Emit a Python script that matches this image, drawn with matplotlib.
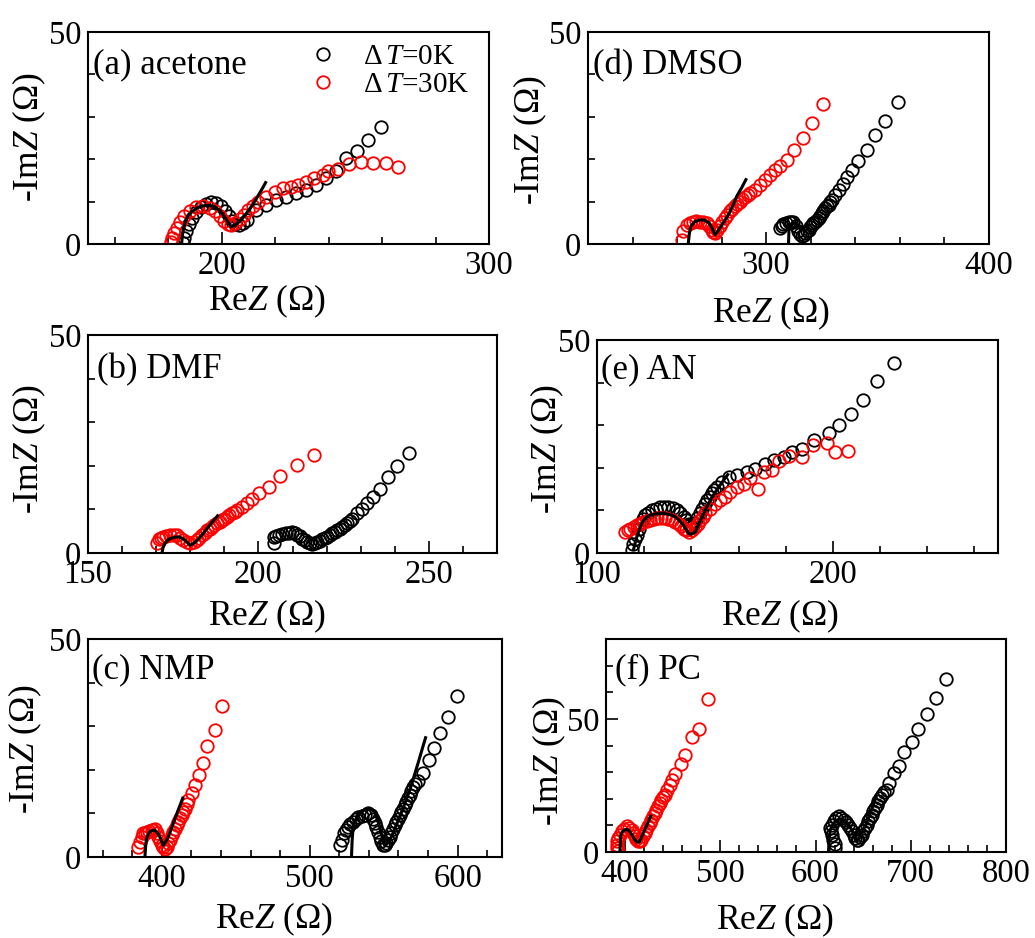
import matplotlib
matplotlib.use("Agg")
import matplotlib.pyplot as plt
from matplotlib.ticker import MultipleLocator
from matplotlib.transforms import offset_copy

plt.rcParams['font.family'] = ['Liberation Serif', 'DejaVu Serif']
plt.rcParams['mathtext.fontset'] = 'custom'
plt.rcParams['mathtext.rm'] = 'Liberation Serif'
plt.rcParams['mathtext.it'] = 'Liberation Serif:italic'

# ---------------- data ----------------
# (a) acetone
a_black_re = [185.5, 186.0, 186.8, 187.8, 189.0, 190.5, 192.2, 194.0, 196.0, 198.0, 199.8, 201.3, 202.6, 203.8, 205.0,
              206.5, 208.0, 209.5, 212.9, 216.7, 220.4, 224.1, 227.9, 231.6, 235.3, 239.1, 242.8, 246.5, 250.6, 254.6, 259.5]
a_black_im = [0.3, 1.5, 3.0, 4.6, 6.2, 7.6, 8.7, 9.4, 9.8, 9.6, 8.9, 7.8, 6.6, 5.5, 4.7,
              4.5, 4.9, 5.7, 8.0, 9.2, 10.4, 11.2, 12.0, 12.7, 13.9, 15.5, 17.1, 20.2, 22.0, 24.5, 27.6]
a_red_re = [181.0, 181.5, 182.3, 183.3, 184.5, 186.0, 188.0, 190.5, 193.0, 195.5, 197.5, 199.3, 201.0, 202.5, 203.6,
            205.0, 206.7, 208.2, 209.8, 211.6, 213.5, 216.7, 219.8, 222.9, 226.0, 228.5, 231.6, 234.7, 237.8, 239.7,
            243.4, 247.6, 252.1, 256.7, 261.4, 265.9]
a_red_im = [0.5, 1.5, 2.6, 3.8, 5.2, 6.5, 7.9, 8.7, 9.0, 8.6, 7.7, 6.6, 5.5, 4.8, 4.5,
            5.0, 5.9, 6.9, 8.0, 9.0, 10.0, 11.2, 12.3, 13.1, 13.5, 13.9, 14.7, 15.5, 16.3, 17.1,
            17.8, 18.8, 19.3, 19.0, 19.0, 18.2]
a_fit_re = [185.0, 185.4, 186.2, 187.3, 188.7, 190.8, 193.0, 195.3, 197.4, 199.5, 201.1, 202.6, 203.6, 205.3, 207.3,
            209.2, 211.1, 212.7, 214.2, 215.5, 216.7]
a_fit_im = [0.0, 2.5, 4.9, 6.5, 7.6, 8.5, 9.0, 9.1, 8.8, 7.8, 6.4, 5.0, 4.1, 4.6, 5.7,
            7.2, 8.8, 10.4, 12.0, 13.4, 14.8]

# (b) DMF
b_black_re = [204.5, 204.7, 205.3, 206.0, 207.0, 208.0, 209.0, 209.9, 210.7, 211.4, 212.1, 212.9, 213.6, 214.3, 215.0,
              215.8, 216.5, 217.3, 218.0, 218.7, 219.5, 220.2, 221.0, 221.7, 222.4, 223.1, 223.9, 224.6, 225.4, 226.1,
              226.8, 227.5, 229.0, 230.5, 232.0, 233.7, 235.7, 238.1, 240.6, 244.1]
b_black_im = [2.2, 3.7, 4.0, 4.2, 4.4, 4.6, 4.7, 4.8, 4.5, 4.2, 3.8, 3.3, 2.9, 2.5, 2.2,
              2.0, 2.2, 2.5, 2.8, 3.1, 3.4, 3.7, 4.1, 4.5, 4.8, 5.2, 5.6, 6.0, 6.4, 6.8,
              7.3, 7.9, 9.1, 10.2, 11.5, 12.9, 14.6, 17.5, 20.0, 22.9]
b_red_re = [170.2, 170.7, 171.3, 172.1, 173.0, 174.1, 175.1, 176.1, 177.0, 178.0, 179.0, 180.0, 181.0, 182.0, 182.7,
            183.4, 184.2, 184.9, 185.7, 186.4, 187.1, 187.8, 188.6, 189.3, 190.0, 190.8, 191.5, 192.3, 193.0, 193.7,
            195.2, 196.7, 198.1, 200.1, 203.0, 206.3, 211.2, 216.4]
b_red_im = [2.2, 3.3, 3.5, 3.7, 3.9, 4.1, 4.1, 4.1, 3.5, 2.9, 2.5, 2.2, 2.5, 2.9, 3.5,
            4.1, 4.7, 5.2, 5.6, 6.0, 6.4, 6.8, 7.1, 7.5, 7.9, 8.3, 8.7, 9.1, 9.4, 9.8,
            10.6, 11.5, 12.5, 13.7, 15.2, 17.7, 20.2, 22.4]
b_fit_re = [171.7, 172.0, 172.6, 173.3, 174.1, 175.3, 176.6, 177.6, 178.5, 179.3, 180.0, 181.0, 182.0, 183.5, 184.9,
            186.6, 188.3]
b_fit_im = [0.0, 1.2, 2.2, 2.9, 3.3, 3.6, 3.7, 3.4, 2.9, 2.3, 1.8, 2.2, 2.9, 4.2, 5.6,
            7.2, 8.8]

# (c) NMP
c_black_re = [520.3, 521.5, 523.0, 524.5, 525.9, 527.5, 529.3, 531.0, 532.7, 535.0, 537.2, 539.4, 541.2, 542.8, 544.0,
              545.1, 546.2, 547.3, 548.4, 549.5, 550.7, 551.8, 552.9, 554.1, 555.2, 556.3, 557.5, 558.6, 559.7, 560.8,
              562.0, 563.1, 564.2, 565.3, 566.5, 567.6, 568.7, 569.8, 571.0, 573.2, 576.6, 580.5, 584.0, 587.8, 593.2,
              599.6]
c_black_im = [2.7, 4.0, 5.4, 6.2, 6.9, 7.5, 8.1, 8.7, 9.2, 9.4, 9.6, 10.0, 9.6, 8.8, 7.9,
              6.9, 5.8, 4.6, 3.6, 2.7, 2.7, 3.1, 3.8, 4.6, 5.6, 6.5, 7.3, 8.1, 8.8, 9.6,
              10.4, 11.1, 11.9, 12.7, 13.5, 14.2, 15.1, 16.1, 16.8, 17.4, 19.3, 22.2, 25.1, 28.5, 32.1,
              37.0]
c_red_re = [384.0, 385.0, 386.3, 387.4, 388.5, 389.6, 391.3, 393.0, 394.2, 395.3, 396.4, 397.5, 398.7, 399.8, 400.9,
            402.0, 403.1, 404.3, 405.5, 406.6, 407.7, 408.8, 409.9, 411.0, 412.2, 413.3, 414.4, 415.5, 416.7, 417.8,
            420.1, 422.3, 425.0, 427.9, 430.6, 435.8, 440.5]
c_red_im = [2.3, 3.5, 4.6, 5.4, 5.6, 5.8, 6.0, 6.1, 6.3, 6.5, 5.6, 4.6, 3.6, 2.7, 2.2,
            1.9, 2.4, 3.1, 4.0, 5.0, 5.8, 6.5, 7.3, 8.1, 8.9, 9.6, 10.4, 11.1, 12.1, 13.0,
            14.6, 16.5, 18.8, 21.6, 25.4, 29.2, 34.6]
c_fit1_re = [388.5, 389.0, 389.6, 390.7, 391.9, 393.6, 395.3, 397.0, 398.6, 399.8, 400.9, 402.6, 404.3, 406.5, 408.8,
             411.6, 414.4]
c_fit1_im = [0.0, 2.5, 4.2, 5.2, 5.8, 6.1, 6.1, 5.5, 4.6, 3.6, 2.7, 3.5, 4.6, 6.6, 8.8,
             11.3, 13.8]
c_fit2_re = [528.2, 528.6, 529.3, 531.0, 532.7, 535.5, 538.3, 541.1, 543.9, 545.6, 547.3, 549.0, 550.7, 553.0, 555.2,
             558.0, 560.8, 564.2, 567.6, 570.4, 573.2, 575.8, 578.6]
c_fit2_im = [0.0, 3.5, 6.9, 8.4, 9.6, 10.5, 11.1, 11.0, 10.4, 8.8, 6.9, 4.6, 2.7, 3.5, 4.6,
             6.9, 9.2, 12.2, 15.3, 18.4, 21.5, 24.5, 27.7]

# (d) DMSO
d_black_re = [306.2, 307.0, 307.7, 308.8, 310.0, 311.1, 312.2, 313.3, 314.4, 315.2, 316.0, 316.8, 317.5, 318.2, 319.0,
              319.8, 320.5, 321.2, 322.0, 322.8, 323.5, 324.2, 325.0, 325.7, 326.5, 327.2, 328.0, 328.8, 329.5, 331.0,
              332.5, 334.3, 336.2, 338.5, 341.4, 345.2, 349.0, 353.1, 359.2]
d_black_im = [3.8, 4.2, 4.6, 5.0, 5.3, 5.3, 5.3, 4.3, 3.0, 2.3, 1.8, 2.2, 2.6, 3.0, 3.4,
              4.0, 4.5, 4.9, 5.3, 5.7, 6.1, 6.7, 7.3, 7.9, 8.5, 8.9, 9.3, 9.9, 10.4, 11.6,
              12.8, 14.2, 15.8, 17.4, 19.6, 22.2, 25.6, 29.1, 33.5]
d_red_re = [262.0, 262.7, 264.3, 265.8, 267.2, 268.7, 270.2, 271.8, 273.3, 274.5, 275.5, 276.3, 277.0, 278.0, 279.2,
            280.3, 281.5, 282.6, 283.7, 284.8, 286.0, 287.1, 288.2, 289.3, 290.5, 291.6, 292.7, 295.0, 297.2, 299.5,
            301.7, 304.0, 306.2, 309.2, 312.5, 316.4, 320.5, 325.7]
d_red_im = [1.0, 3.0, 4.5, 5.0, 5.3, 5.4, 5.3, 5.2, 5.0, 4.3, 3.4, 2.9, 2.6, 3.3, 4.2,
            5.1, 6.1, 6.9, 7.7, 8.3, 8.9, 9.5, 10.0, 10.6, 11.2, 11.6, 12.0, 12.8, 14.0, 15.2,
            16.3, 17.5, 18.3, 19.9, 22.2, 25.1, 28.5, 33.1]
d_fit1_re = [265.0, 265.5, 266.2, 268.0, 270.5, 272.5, 274.2, 275.5, 276.3, 277.0, 278.0, 279.2, 281.0, 283.0, 285.0,
             286.7, 289.0, 291.2]
d_fit1_im = [0.0, 2.5, 4.2, 5.3, 5.7, 5.6, 5.0, 4.0, 3.0, 2.2, 2.8, 3.8, 5.2, 6.9, 9.0,
             11.2, 13.3, 15.5]
d_fit2_re = [310.0, 310.2, 311.5, 313.0, 314.5, 316.0]
d_fit2_im = [0.0, 3.2, 4.6, 5.0, 4.4, 3.0]

# (e) AN
e_black_re = [114.7, 115.4, 116.1, 116.9, 117.6, 118.3, 119.3, 120.4, 121.8, 123.2, 125.0, 126.8, 128.5, 130.3, 132.1,
              133.9, 135.3, 136.7, 137.8, 138.8, 139.5, 140.2, 141.3, 142.4, 143.5, 144.5, 145.6, 146.6, 147.7, 148.7,
              149.8, 150.9, 153.0, 155.8, 159.4, 163.6, 167.1, 171.4, 174.9, 179.2, 182.7, 187.0, 191.9, 198.3, 202.7,
              207.5, 212.6, 218.5, 225.7]
e_black_im = [0.6, 2.2, 3.2, 4.2, 5.6, 6.9, 8.0, 8.9, 9.5, 10.0, 10.4, 10.8, 10.9, 10.8, 10.5,
              10.0, 9.3, 8.5, 7.7, 6.9, 6.5, 6.1, 7.1, 8.1, 9.3, 10.4, 11.4, 12.4, 13.2, 14.0,
              14.8, 15.5, 16.7, 17.9, 18.3, 19.0, 19.8, 21.0, 21.8, 22.6, 23.7, 24.5, 26.5, 28.2, 30.0,
              32.7, 35.9, 40.4, 44.7]
e_red_re = [111.9, 113.0, 114.0, 115.5, 116.9, 118.3, 119.7, 121.1, 122.5, 124.0, 125.4, 127.2, 128.9, 130.3, 131.7,
            133.2, 134.6, 135.7, 136.7, 137.8, 138.8, 140.2, 141.6, 142.7, 143.8, 144.8, 145.9, 148.0, 150.1, 152.3,
            154.4, 156.5, 159.4, 162.2, 165.0, 168.1, 170.7, 174.2, 177.0, 181.3, 187.0, 191.7, 197.5, 200.8, 206.6]
e_red_im = [4.9, 5.3, 5.7, 6.1, 6.5, 6.9, 7.3, 7.5, 7.7, 7.9, 8.1, 8.1, 8.1, 7.9, 7.7,
            7.3, 6.9, 6.3, 5.7, 5.3, 4.9, 5.5, 6.1, 6.9, 7.7, 8.5, 9.3, 10.4, 11.6, 12.4,
            13.2, 14.3, 15.5, 16.3, 17.5, 15.0, 18.9, 19.6, 21.6, 22.8, 22.6, 25.3, 25.9, 23.7, 23.9]
e_fit_re = [115.4, 116.0, 116.9, 118.0, 119.0, 120.5, 122.5, 125.0, 128.2, 131.0, 133.2, 135.0, 136.7, 137.8, 138.8,
            140.0, 141.6, 143.0, 144.5, 146.3, 148.0, 149.8, 151.6, 153.7, 155.8]
e_fit_im = [0.6, 2.0, 3.8, 5.6, 7.0, 8.2, 8.9, 9.2, 9.3, 9.0, 8.5, 7.6, 6.5, 5.5, 4.6,
            4.4, 4.9, 6.6, 8.5, 10.5, 12.4, 14.0, 15.5, 17.1, 18.7]

# (f) PC
f_black_re = [620.7, 620.0, 618.5, 617.2, 615.8, 615.5, 616.8, 619.0, 621.5, 624.2, 626.8, 629.4, 632.0, 634.6, 636.4,
              638.1, 639.9, 641.6, 643.3, 645.0, 646.8, 648.5, 650.2, 652.0, 653.7, 655.5, 657.2, 658.9, 660.7, 662.4,
              664.1, 665.9, 668.0, 670.0, 672.3, 674.6, 677.1, 682.6, 687.8, 692.8, 701.4, 707.7, 717.1, 726.5, 737.2]
f_black_im = [1.5, 3.0, 4.6, 6.5, 7.8, 9.0, 10.3, 11.5, 12.6, 13.4, 12.9, 12.1, 11.2, 10.3, 9.0,
              7.7, 6.5, 5.3, 4.6, 4.6, 5.5, 6.5, 7.7, 9.0, 10.3, 11.5, 12.8, 14.0, 15.3, 16.5,
              17.8, 19.0, 20.3, 21.5, 22.5, 23.4, 25.9, 29.7, 32.2, 37.5, 41.2, 46.2, 52.0, 57.8, 65.1]
f_red_re = [392.8, 391.5, 391.1, 391.8, 392.8, 394.5, 396.4, 398.8, 401.6, 404.2, 406.8, 408.5, 410.2, 412.0, 413.7,
            415.5, 417.2, 419.0, 420.7, 422.4, 424.1, 425.9, 427.6, 429.4, 431.1, 432.8, 434.5, 436.3, 438.0, 439.8,
            441.5, 444.1, 446.7, 449.8, 452.8, 458.6, 463.2, 470.4, 478.0, 487.2]
f_red_im = [0.2, 1.5, 2.7, 4.0, 5.3, 6.5, 7.7, 8.7, 9.6, 9.1, 8.4, 7.1, 5.9, 4.9, 4.0,
            4.2, 4.6, 5.9, 7.1, 8.3, 9.6, 10.8, 12.1, 13.4, 14.7, 15.9, 17.1, 18.4, 19.7, 20.6,
            21.5, 23.4, 25.3, 27.2, 29.2, 33.1, 36.4, 43.2, 46.2, 57.6]
f_fit1_re = [394.6, 395.0, 395.3, 397.0, 399.8, 402.5, 405.0, 407.5, 410.2, 412.5, 414.7, 417.5, 420.7, 424.0, 427.6]
f_fit1_im = [0.2, 3.0, 5.9, 7.5, 8.4, 8.4, 7.7, 6.2, 4.6, 3.8, 3.6, 5.8, 8.4, 11.0, 14.0]
f_fit2_re = [613.7, 614.0, 615.5, 619.0, 622.5, 625.9, 629.5, 633.5, 638.1, 641.0, 643.3, 647.0, 652.0, 658.0, 664.2]
f_fit2_im = [0.2, 4.0, 8.4, 10.8, 12.0, 12.4, 12.0, 10.5, 8.4, 6.0, 4.0, 6.0, 9.6, 15.0, 21.5]

panel_titles = ['(a) acetone', '(b) DMF', '(c) NMP', '(d) DMSO', '(e) AN', '(f) PC']
legend_labels = ['Δ$\\,T$=0K', 'Δ$\\,T$=30K']
xlabel_text = 'Re$Z$ (Ω)'
ylabel_text = '-Im$Z$ (Ω)'

# ---------------- layout ----------------
W, H = 1035, 938
fig = plt.figure(figsize=(W / 100, H / 100), dpi=100)

# (left, top, right, bottom) in pixels
boxes = {
    'a': (88, 32, 489, 244),
    'b': (88, 335, 497, 553),
    'c': (88, 639, 502, 857),
    'd': (588, 32, 989, 244),
    'e': (597, 340, 998, 553),
    'f': (606, 639, 1006, 852),
}
xlims = {'a': (150, 300), 'b': (150, 270), 'c': (350, 630), 'd': (220, 400), 'e': (100, 270), 'f': (380, 800)}
ylims = {'a': (0, 50), 'b': (0, 50), 'c': (0, 50), 'd': (0, 50), 'e': (0, 50), 'f': (0, 80)}
xmaj = {'a': 100, 'b': 50, 'c': 100, 'd': 100, 'e': 100, 'f': 100}
xmin = {'a': 20, 'b': 10, 'c': 20, 'd': 20, 'e': 20, 'f': 20}
# xlabel centre x (px, absolute) and top offset below axes (px)
xlab = {'a': (267, 39), 'b': (267, 45), 'c': (274, 44), 'd': (771, 51), 'e': (780, 45), 'f': (775, 50)}
# ylabel right edge offset (px, from axes left) and centre y (absolute px)
ylab = {'a': (-40, 137), 'b': (-40, 449), 'c': (-44, 749), 'd': (-39, 140), 'e': (-31, 449), 'f': (-38, 761)}
# panel title offsets: x from left (px), centre below top (px)
tpos = {'a': (5, 32.5), 'b': (9, 35), 'c': (4, 31), 'd': (5, 34), 'e': (4, 29.5), 'f': (9, 31)}

data = {
    'a': dict(black=(a_black_re, a_black_im), red=(a_red_re, a_red_im), fits=[(a_fit_re, a_fit_im)]),
    'b': dict(black=(b_black_re, b_black_im), red=(b_red_re, b_red_im), fits=[(b_fit_re, b_fit_im)]),
    'c': dict(black=(c_black_re, c_black_im), red=(c_red_re, c_red_im),
              fits=[(c_fit1_re, c_fit1_im), (c_fit2_re, c_fit2_im)]),
    'd': dict(black=(d_black_re, d_black_im), red=(d_red_re, d_red_im),
              fits=[(d_fit1_re, d_fit1_im), (d_fit2_re, d_fit2_im)]),
    'e': dict(black=(e_black_re, e_black_im), red=(e_red_re, e_red_im), fits=[(e_fit_re, e_fit_im)]),
    'f': dict(black=(f_black_re, f_black_im), red=(f_red_re, f_red_im),
              fits=[(f_fit1_re, f_fit1_im), (f_fit2_re, f_fit2_im)]),
}

mk = dict(linestyle='none', marker='o', markersize=9, markerfacecolor='none', markeredgewidth=1.3)

for i, key in enumerate('abcdef'):
    l, t, r, b = boxes[key]
    wpx, hpx = r - l, b - t
    ax = fig.add_axes([l / W, 1 - b / H, wpx / W, hpx / H])
    d = data[key]
    hb, = ax.plot(d['black'][0], d['black'][1], color='black', label=legend_labels[0], **mk)
    hr, = ax.plot(d['red'][0], d['red'][1], color='#ff0000', label=legend_labels[1], **mk)
    for fr, fi in d['fits']:
        ax.plot(fr, fi, color='black', lw=2.2, solid_capstyle='butt')
    ax.set_xlim(*xlims[key])
    ax.set_ylim(*ylims[key])
    ax.xaxis.set_major_locator(MultipleLocator(xmaj[key]))
    ax.xaxis.set_minor_locator(MultipleLocator(xmin[key]))
    ax.yaxis.set_major_locator(MultipleLocator(50))
    ax.yaxis.set_minor_locator(MultipleLocator(10))
    ax.tick_params(which='both', direction='in', top=False, right=False, labelsize=23.5, pad=5, width=1.2)
    ax.tick_params(which='major', length=8.5)
    ax.tick_params(which='minor', length=4.8)
    for s in ax.spines.values():
        s.set_linewidth(1.5)
    ax.set_xlabel(xlabel_text, fontsize=25.5)
    ax.set_ylabel(ylabel_text, fontsize=25.5)
    xc, xoff = xlab[key]
    ax.xaxis.set_label_coords((xc - l) / wpx, -xoff / hpx)
    yoffx, yc = ylab[key]
    ax.yaxis.set_label_coords(yoffx / wpx, (b - yc) / hpx)
    tx, ty = tpos[key]
    ax.text(0, 1, panel_titles[i], fontsize=25, ha='left', va='center',
            transform=offset_copy(ax.transAxes, fig=fig, x=tx, y=-ty, units='dots'))
    if key == 'a':
        ax.legend(handles=[hb, hr], loc='upper left', frameon=False, fontsize=21,
                  handlelength=1.0, handletextpad=0.87, borderpad=0, borderaxespad=0,
                  labelspacing=0.05, numpoints=1,
                  bbox_to_anchor=(0, 1),
                  bbox_transform=offset_copy(ax.transAxes, fig=fig, x=220, y=-12, units='dots'))

fig.savefig('out.png', dpi=100)
